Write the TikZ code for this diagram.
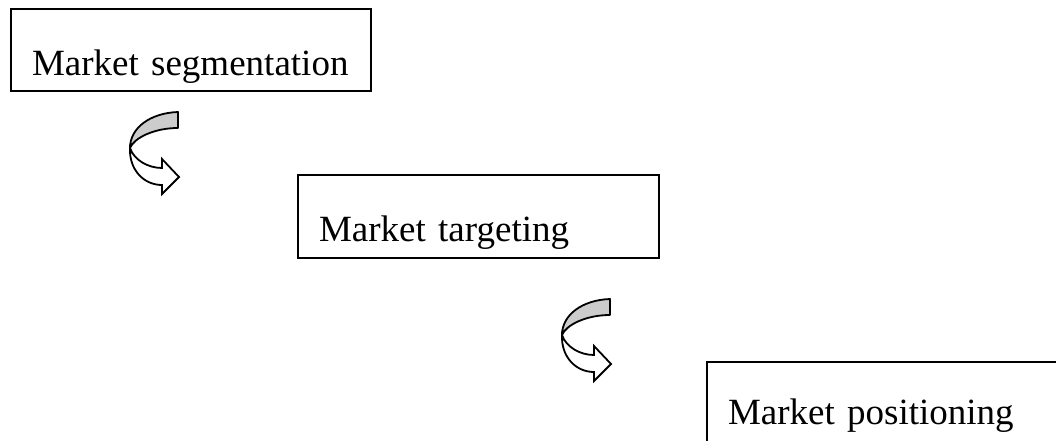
\documentclass[tikz,border=0pt]{standalone}
\usepackage{fontspec}
\setmainfont{Liberation Serif}
\usetikzlibrary{positioning}

\tikzset{
  stage/.style={draw, line width=2pt, anchor=north west, inner xsep=21pt, inner ysep=0pt, align=left, font=\fontsize{37}{44}\selectfont},
  twist arrow/.pic={
    \draw[line width=1.8pt, line join=round, fill=gray!40]
      (0,0) .. controls (-28,1) and (-48,16) .. (-48,36)
      .. controls (-44,26) and (-24,16) .. (0,16) -- cycle;
    \draw[line width=1.8pt, line join=miter, fill=white]
      (-48,36) .. controls (-49,58) and (-34,73) .. (-16,73)
      -- (-16,82) -- (1,65) -- (-16,47) -- (-16,56)
      .. controls (-30,56) and (-44,48) .. (-48,36) -- cycle;
  }
}

\begin{document}
\begin{tikzpicture}[x=1pt, y=-1pt]
                        \clip (0,0) rectangle (1056,441);
                        \fill[white] (0,0) rectangle (1056,441);
                        \node[stage, text width=318pt, text height=67pt, text depth=15pt] (seg) at (10, 8) {\mbox{Market segmentation}};
                        \node[stage, text width=319pt, text height=66pt, text depth=17pt] (tar) at (297, 174) {Market targeting};
                        \node[stage, text width=360pt, text height=62pt, text depth=30pt] (pos) at (706, 361) {Market positioning};
                        \pic at (178, 112) {twist arrow};
                        \pic at (610, 299) {twist arrow};
                    \end{tikzpicture}
\end{document}
